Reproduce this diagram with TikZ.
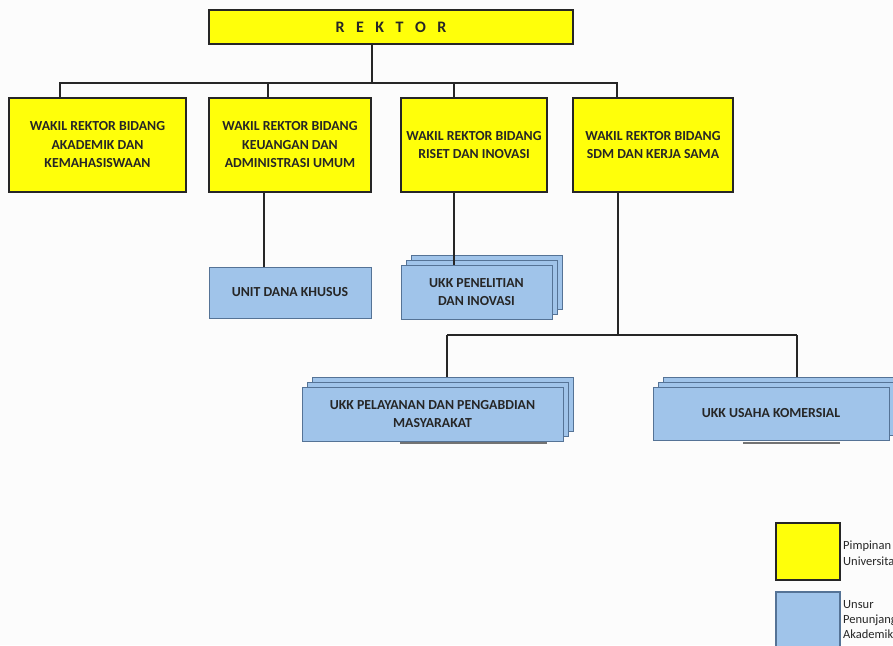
\documentclass[tikz,border=0pt]{standalone}
\usepackage{fontspec}
\setmainfont{Carlito}
\begin{document}
\begin{tikzpicture}[x=1pt,y=-1pt,
  ybox/.style={draw=black!85, line width=1.1pt, fill=yellowfill, inner sep=0pt, align=center,
    font=\bfseries\fontsize{13.8}{18.5}\selectfont, text=black!85},
  bbox/.style={draw=bluedraw, line width=1pt, fill=bluefill, inner sep=0pt, align=center,
    font=\bfseries\fontsize{13.8}{18.5}\selectfont, text=black!85},
  conn/.style={draw=black!85, line width=1.2pt},
  shadowline/.style={draw=black!55, line width=2pt},
  legtext/.style={anchor=base west, inner sep=0pt, font=\fontsize{12.5}{14}\selectfont, text=black!85}
]
\definecolor{yellowfill}{RGB}{255,255,10}
\definecolor{bluefill}{RGB}{160,196,234}
\definecolor{bluedraw}{RGB}{85,115,150}
\path[use as bounding box] (0,0) rectangle (893,645);
\clip (0,0) rectangle (893,645);
\fill[white!98!gray] (0,0) rectangle (893,645);

% joints
\coordinate (j0) at (372,83);
\coordinate (jl) at (60,83);
\coordinate (jr) at (617,83);
\coordinate (c2) at (264,0);
\coordinate (c3) at (454,0);
\coordinate (c4) at (618,335);
\coordinate (kl) at (447,335);
\coordinate (kr) at (797,335);

% top
\node[ybox, minimum width=364pt, minimum height=34pt, font=\bfseries\fontsize{16}{18}\selectfont] (rektor) at (391,27)
  {R\kern11.5pt E\kern11.5pt K\kern11.5pt T\kern11.5pt O\kern11.5pt R};

\node[ybox, minimum width=177pt, minimum height=94pt] (w1) at (97.5,145) {WAKIL REKTOR BIDANG\\AKADEMIK DAN\\KEMAHASISWAAN};
\node[ybox, minimum width=162pt, minimum height=94pt] (w2) at (290,145) {WAKIL REKTOR BIDANG\\KEUANGAN DAN\\ADMINISTRASI UMUM};
\node[ybox, minimum width=146pt, minimum height=94pt] (w3) at (474,145) {WAKIL REKTOR BIDANG\\RISET DAN INOVASI};
\node[ybox, minimum width=160pt, minimum height=94pt] (w4) at (653,145) {WAKIL REKTOR BIDANG\\SDM DAN KERJA SAMA};

% connectors top level
\draw[conn] (rektor.south -| j0) -- (j0);
\draw[conn] (w1.north -| jl) -- (jl) -- (jr) -- (w4.north -| jr);
\draw[conn] (w2.north -| 268,0) -- (268,83);
\draw[conn] (w3.north -| c3) -- (c3 |- j0);

% unit dana khusus
\node[bbox, minimum width=162pt, minimum height=51pt] (unit) at (290,292.5) {UNIT DANA KHUSUS};
\draw[conn] (w2.south -| c2) -- (unit.north -| c2);

% UKK penelitian (stacked)
\node[bbox, minimum width=151pt, minimum height=54pt] (pen3) at (486.5,282) {};
\node[bbox, minimum width=151pt, minimum height=54pt] (pen2) at (481.5,287) {};
\node[bbox, minimum width=151pt, minimum height=54pt] (pen) at (476.5,292) {UKK PENELITIAN\\DAN INOVASI};
\draw[conn] (w3.south -| c3) -- (pen.north -| c3);

% SDM branch
\draw[conn] (w4.south -| c4) -- (c4);
\draw[conn] (kl) -- (kr);

% UKK pelayanan (stacked)
\node[bbox, minimum width=261pt, minimum height=54pt] (pel3) at (442.5,404) {};
\node[bbox, minimum width=261pt, minimum height=54pt] (pel2) at (437.5,409) {};
\node[bbox, minimum width=261pt, minimum height=54pt] (pel) at (432.5,414) {UKK PELAYANAN DAN PENGABDIAN\\MASYARAKAT};
\draw[shadowline] (400,443) -- (547,443);
\draw[conn] (kl) -- (pel3.north -| kl);

% UKK usaha komersial (stacked)
\node[bbox, minimum width=236pt, minimum height=53pt] (usa3) at (781,403.5) {};
\node[bbox, minimum width=236pt, minimum height=53pt] (usa2) at (776,408.5) {};
\node[bbox, minimum width=236pt, minimum height=53pt] (usa) at (771,413.5) {UKK USAHA KOMERSIAL};
\draw[shadowline] (743,443) -- (840,443);
\draw[conn] (kr) -- (usa3.north -| kr);

% legend
\node[draw=black!85, line width=1.1pt, fill=yellowfill, minimum width=64pt, minimum height=57pt, inner sep=0pt] (legy) at (808,551.5) {};
\node[draw=bluedraw, line width=1.1pt, fill=bluefill, minimum width=64pt, minimum height=60pt, inner sep=0pt] (legb) at (808,622) {};
\node[legtext] (ly1) at (843,549) {Pimpinan};
\node[legtext] (ly2) at (843,565) {Universitas};
\node[legtext] (lb1) at (843,608) {Unsur};
\node[legtext] (lb2) at (843,623) {Penunjang};
\node[legtext] (lb3) at (843,638) {Akademik};
\end{tikzpicture}
\end{document}
